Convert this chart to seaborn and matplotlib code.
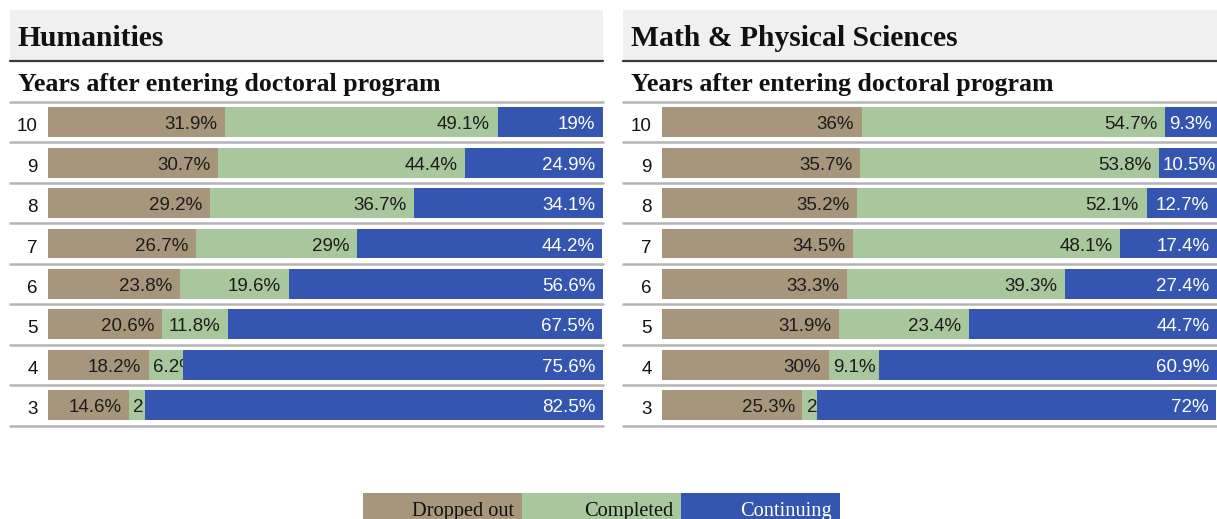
import numpy as np
import pandas as pd
import seaborn as sns
import matplotlib.pyplot as plt
from matplotlib.patches import Rectangle
from matplotlib.lines import Line2D
from matplotlib.transforms import ScaledTranslation

# ---------------- data ----------------
years = ['10', '9', '8', '7', '6', '5', '4', '3']
series = ['Dropped out', 'Completed', 'Continuing']

hum_dropped = [31.9, 30.7, 29.2, 26.7, 23.8, 20.6, 18.2, 14.6]
hum_completed = [49.1, 44.4, 36.7, 29.0, 19.6, 11.8, 6.2, 2.9]
hum_continuing = [19.0, 24.9, 34.1, 44.2, 56.6, 67.5, 75.6, 82.5]

mps_dropped = [36.0, 35.7, 35.2, 34.5, 33.3, 31.9, 30.0, 25.3]
mps_completed = [54.7, 53.8, 52.1, 48.1, 39.3, 23.4, 9.1, 2.6]
mps_continuing = [9.3, 10.5, 12.7, 17.4, 27.4, 44.7, 60.9, 72.0]

panel_titles = ['Humanities', 'Math & Physical Sciences']
subtitle = 'Years after entering doctoral program'

# ---------------- style ----------------
C_DROP = '#a8967c'
C_COMP = '#a8c79c'
C_CONT = '#3456b0'
colors = [C_DROP, C_COMP, C_CONT]

sns.set_theme(style='white')
plt.rcParams['font.family'] = ['Liberation Sans', 'DejaVu Sans']

W, H = 1217, 519
fig = plt.figure(figsize=(W / 100, H / 100), dpi=100)
fig.patch.set_facecolor('white')


def fx(x):
    return x / W


def fy(y):
    return 1 - y / H


def panel(band_left, bar_left, right, title, dropped, completed, continuing):
    # title band
    fig.add_artist(Rectangle((fx(band_left), fy(60)), fx(right - band_left), (50) / H,
                             transform=fig.transFigure, facecolor='#f0f0f0',
                             edgecolor='none', zorder=0))
    fig.add_artist(Line2D([fx(band_left), fx(right)], [fy(61), fy(61)],
                          transform=fig.transFigure, color='#3a3a3a', lw=1.6))
    fig.text(fx(band_left + 8), fy(38), title, family='Liberation Serif',
             fontweight='bold', fontsize=21.3, va='center', ha='left', color='#111111')
    fig.text(fx(band_left + 8), fy(84), subtitle, family='Liberation Serif',
             fontweight='bold', fontsize=18.6, va='center', ha='left', color='#111111')

    top, bot = 102, 425.5
    ax = fig.add_axes([fx(bar_left), fy(bot), (right - bar_left) / W, (bot - top) / H])
    df = pd.DataFrame({'year': years, 'dropped': dropped,
                       'completed': completed, 'continuing': continuing})
    df['c1'] = df['dropped']
    df['c2'] = df['dropped'] + df['completed']
    df['c3'] = df['c2'] + df['continuing']

    bw = 0.74
    for col, colr in [('c3', C_CONT), ('c2', C_COMP), ('c1', C_DROP)]:
        sns.barplot(data=df, y='year', x=col, order=years, orient='h', color=colr,
                    saturation=1, width=bw, errorbar=None, ax=ax, linewidth=0)

    ax.set_xlim(0, 100)
    ax.set_ylim(len(years) - 0.5, -0.5)
    ax.set_xlabel('')
    ax.set_ylabel('')
    ax.set_xticks([])
    for s in ax.spines.values():
        s.set_visible(False)
    ax.tick_params(axis='y', length=0, pad=7.5, labelsize=13.5, labelcolor='#111111')
    shift = ScaledTranslation(0, -2.5 / 100, fig.dpi_scale_trans)
    for lab in ax.get_yticklabels():
        lab.set_transform(lab.get_transform() + shift)
    ax.set_facecolor('none')

    # separators
    frac = -(bar_left - band_left) / (right - bar_left)
    for k in range(len(years) + 1):
        ax.axhline(k - 0.5, xmin=frac, xmax=1, color='#b4b4b4', lw=1.8, clip_on=False,
                   zorder=0)

    # value labels
    renderer = fig.canvas.get_renderer()
    for i in range(len(years)):
        starts = [0, df['c1'][i], df['c2'][i]]
        vals = [df['dropped'][i], df['completed'][i], df['continuing'][i]]
        for j in range(3):
            s0, v = starts[j], vals[j]
            tc = 'white' if j == 2 else '#1c1c1c'
            t = ax.annotate(f'{v:g}%', xy=(s0 + v, i), xytext=(-5.5, -1.8),
                            textcoords='offset points', ha='right', va='center',
                            fontsize=13.5, color=tc, zorder=5)
            clip = Rectangle((s0, i - bw / 2), v, bw, transform=ax.transData)
            t.set_clip_path(clip)
            bb = t.get_window_extent(renderer)
            seg_x0 = ax.transData.transform((s0, i))[0]
            if bb.x0 < seg_x0 + 2:
                t.xy = (s0, i)
                t.xyann = (3, -1.8)
                t.set_ha('left')
    return ax


panel(10, 48, 603, panel_titles[0], hum_dropped, hum_completed, hum_continuing)
panel(623, 662, 1217, panel_titles[1], mps_dropped, mps_completed, mps_continuing)

# legend
lx = [363, 522, 681, 840]
for k, name in enumerate(series):
    fig.add_artist(Rectangle((fx(lx[k]), 0), fx(lx[k + 1] - lx[k]), (H - 493) / H,
                             transform=fig.transFigure, facecolor=colors[k],
                             edgecolor='none'))
    fig.text(fx(lx[k + 1] - 8), fy(516), name, family='Liberation Serif', fontsize=14.7,
             ha='right', va='baseline', color='white' if k == 2 else '#111111')

fig.savefig('out.png', dpi=100)
